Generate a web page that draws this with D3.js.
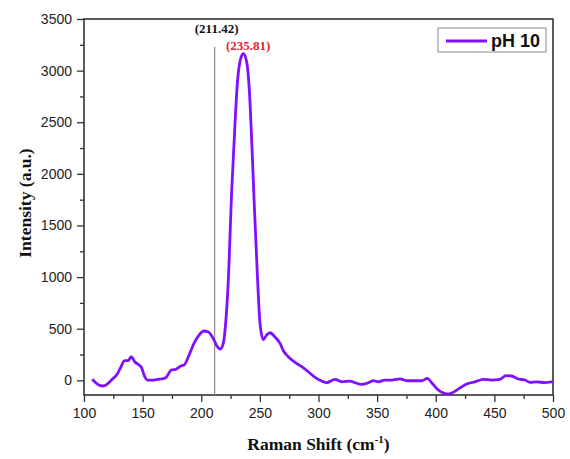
<!DOCTYPE html>
<html>
<head>
<meta charset="utf-8">
<script src="https://cdn.jsdelivr.net/npm/d3@7"></script>
<style>
  body { margin: 0; background: #fff; }
  .tick text { font-family: "Liberation Sans", Arial, sans-serif; font-size: 14px; fill: #222; }
  .axis-title { font-family: "Liberation Serif", "Times New Roman", serif; font-weight: bold; font-size: 17.5px; fill: #111; }
</style>
</head>
<body>
<svg id="chart" width="570" height="459"></svg>
<script>
// Raman spectrum, pH 10
const ramanShift = [107, 111.4, 115.6, 119.9, 124, 128.4, 131.3, 134.7, 137.5, 140.4, 143.2, 146.9, 148.9, 151.8, 154, 159.7, 165.4, 169.7, 174.5, 178.2,
  182.5, 185.3, 189.6, 193.8, 198.1, 202.3, 205.8, 210.9, 213.7, 216.2, 218.8, 220.8, 222.8, 226, 228.8, 230.8, 233, 235.8, 238.7, 241,
  243, 245.3, 247.8, 250.1, 252.9, 255.8, 258.6, 262.9, 267.2, 270, 274.2, 280, 285.7, 291.3, 297, 302.7, 307, 314.1, 319.8, 326.9,
  331.1, 336.8, 341.1, 346.7, 351, 356.7, 362.4, 369.5, 375.2, 380.9, 388, 392.8, 396.5, 400.8, 405.1, 410.7, 415, 420.1, 426.4, 433.5,
  440.6, 447.7, 454.8, 459.9, 464.7, 470.4, 476.1, 480.4, 486.1, 493.2, 498.9, 500];
const intensity = [10, -36, -55, -36, 10, 61, 126, 190, 190, 229, 180, 148, 126, 35, 3, 3, 13, 25, 100, 106,
  139, 148, 245, 358, 439, 478, 471, 390, 326, 303, 358, 552, 900, 1844, 2490, 2878, 3087, 3165, 3087, 2813,
  2328, 1682, 1037, 552, 395, 439, 461, 420, 358, 287, 229, 174, 132, 83, 29, -7, -23, 10, -14, -7,
  -23, -39, -29, -4, -14, 3, 3, 15, -4, -4, -4, 19, -23, -78, -116, -133, -116, -78, -36, -14,
  10, 3, 10, 45, 42, 13, 3, -20, -14, -23, -14, -18];

const xTicks = [100, 150, 200, 250, 300, 350, 400, 450, 500];
const xMinorTicks = [125, 175, 225, 275, 325, 375, 425, 475];
const yTicks = [0, 500, 1000, 1500, 2000, 2500, 3000, 3500];
const yMinorTicks = [250, 750, 1250, 1750, 2250, 2750, 3250];

const markerShift = 211.42;
const peakShift = 235.81;
const seriesName = "pH 10";

const svg = d3.select("#chart");
const margin = { top: 19, right: 17, bottom: 64, left: 84 };
const width = +svg.attr("width");
const height = +svg.attr("height");
const innerWidth = width - margin.left - margin.right;
const innerHeight = height - margin.top - margin.bottom;

const g = svg.append("g")
  .attr("transform", `translate(${margin.left},${margin.top})`);

const x = d3.scaleLinear().domain([100, 500]).range([0, innerWidth]);
const y = d3.scaleLinear().domain([-142, 3500]).range([innerHeight, 0]);

// Axes: major ticks with labels, minor ticks without
function styleAxis(a, minor) {
  a.select(".domain").remove();
  a.selectAll("line").attr("stroke", "#333").attr("stroke-width", 1.3);
  if (minor) a.selectAll("text").remove();
}

g.append("g")
  .attr("transform", `translate(0,${innerHeight})`)
  .call(d3.axisBottom(x).tickValues(xMinorTicks).tickSize(4))
  .call(a => styleAxis(a, true));

g.append("g")
  .attr("transform", `translate(0,${innerHeight})`)
  .call(d3.axisBottom(x).tickValues(xTicks).tickSize(7).tickPadding(6).tickFormat(d3.format("d")))
  .call(a => styleAxis(a, false));

g.append("g")
  .call(d3.axisLeft(y).tickValues(yMinorTicks).tickSize(4))
  .call(a => styleAxis(a, true));

g.append("g")
  .call(d3.axisLeft(y).tickValues(yTicks).tickSize(7).tickPadding(5).tickFormat(d3.format("d")))
  .call(a => styleAxis(a, false));

// Frame
g.append("rect")
  .attr("width", innerWidth)
  .attr("height", innerHeight)
  .attr("fill", "none")
  .attr("stroke", "#333")
  .attr("stroke-width", 1.6);

// Marker line at 211.42
g.append("line")
  .attr("x1", x(markerShift)).attr("x2", x(markerShift))
  .attr("y1", y(3230)).attr("y2", innerHeight)
  .attr("stroke", "#8c8c8c")
  .attr("stroke-width", 1.2);

// Spectrum
const data = ramanShift.map((s, i) => ({ shift: s, value: intensity[i] }));
const line = d3.line()
  .x(d => x(d.shift))
  .y(d => y(d.value))
  .curve(d3.curveMonotoneX);

g.append("path")
  .datum(data)
  .attr("fill", "none")
  .attr("stroke", "#7f0fff")
  .attr("stroke-width", 2.8)
  .attr("stroke-linejoin", "round")
  .attr("d", line);

// Annotations
g.append("text")
  .attr("x", x(markerShift) + 2)
  .attr("y", y(3230) - 14)
  .attr("text-anchor", "middle")
  .style("font-family", "'Liberation Serif', serif")
  .style("font-weight", "bold")
  .style("font-size", "13px")
  .attr("fill", "#111")
  .text(`(${markerShift.toFixed(2)})`);

g.append("text")
  .attr("x", x(peakShift) + 5)
  .attr("y", y(3230) + 3)
  .attr("text-anchor", "middle")
  .style("font-family", "'Liberation Serif', serif")
  .style("font-weight", "bold")
  .style("font-size", "13px")
  .attr("fill", "#e3232b")
  .text(`(${peakShift.toFixed(2)})`);

// Legend
const legend = g.append("g")
  .attr("transform", `translate(${innerWidth - 115},9)`);

legend.append("rect")
  .attr("width", 108).attr("height", 24)
  .attr("fill", "#fff")
  .attr("stroke", "#888")
  .attr("stroke-width", 1);

legend.append("line")
  .attr("x1", 8).attr("x2", 49)
  .attr("y1", 13).attr("y2", 13)
  .attr("stroke", "#7f0fff")
  .attr("stroke-width", 2.8);

legend.append("text")
  .attr("x", 53)
  .attr("y", 19)
  .style("font-family", "'Liberation Sans', Arial, sans-serif")
  .style("font-weight", "bold")
  .style("font-size", "18px")
  .attr("fill", "#111")
  .text(seriesName);

// Axis titles
const xTitle = svg.append("text")
  .attr("class", "axis-title")
  .attr("x", margin.left + innerWidth / 2)
  .attr("y", 450)
  .attr("text-anchor", "middle");
xTitle.append("tspan").text("Raman Shift (cm");
xTitle.append("tspan").attr("dy", -7).style("font-size", "11px").text("-1");
xTitle.append("tspan").attr("dy", 7).text(")");

svg.append("text")
  .attr("class", "axis-title")
  .attr("transform", `translate(31,${margin.top + innerHeight / 2 - 4}) rotate(-90)`)
  .attr("text-anchor", "middle")
  .text("Intensity (a.u.)");
</script>
</body>
</html>
